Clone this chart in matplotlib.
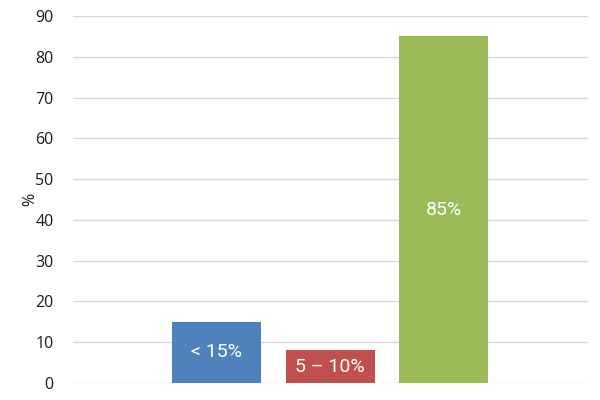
import matplotlib.pyplot as plt

# Chart data
categories = ['< 15%', '5 – 10%', '85%']
values = [15, 8, 85]
colors = ['#4F81BD', '#C0504D', '#9BBB59']
yticks = list(range(0, 91, 10))

fig = plt.figure(figsize=(6, 4), dpi=100)
ax = fig.add_axes([73 / 600, 1 - 383 / 400, 515 / 600, 367 / 400])

xs = list(range(len(values)))
ax.bar(xs, values, width=0.78, color=colors, zorder=2)

# Labels inside bars, at middle of each bar
for x, v, lab in zip(xs, values, categories):
    ax.text(x, v / 2, lab, ha='center', va='center', color='white',
            fontsize=14, family='Roboto', zorder=3)

ax.set_xlim(-1.265, 3.27)
ax.set_ylim(0, 90)
ax.set_yticks(yticks)
ax.set_xticks([])
ax.grid(axis='y', color='#D9D9D9', linewidth=1, zorder=0)
ax.tick_params(axis='y', length=0, pad=14, labelsize=11.5, labelcolor='#1a1a1a')
for lbl in ax.get_yticklabels():
    lbl.set_family('Open Sans')
for s in ax.spines.values():
    s.set_visible(False)

ax.set_ylabel('%', fontsize=11.5, family='Open Sans', labelpad=-2, color='#1a1a1a')

fig.savefig('out.png', dpi=100)
